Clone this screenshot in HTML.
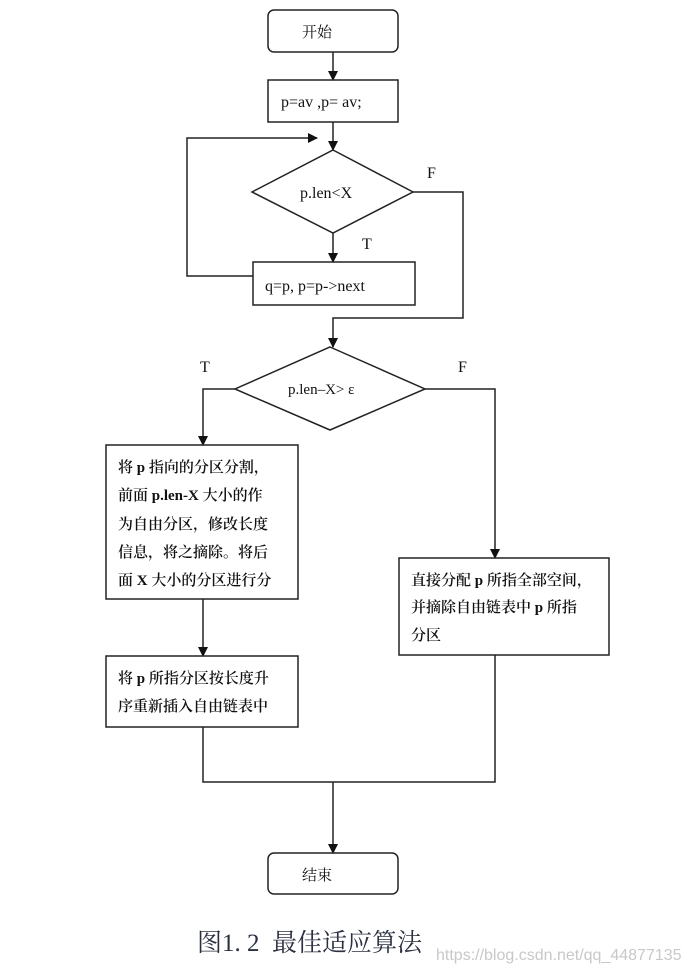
<!DOCTYPE html>
<html><head><meta charset="utf-8"><style>
body{margin:0;background:#fff;}
svg{display:block;}
text{font-family:"Liberation Serif","Noto Serif CJK SC",serif;fill:#111;}
.c{font-family:"Liberation Serif","Noto Serif CJK SC",serif;font-size:15px;font-weight:600;}
</style></head><body>
<svg width="689" height="972" viewBox="0 0 689 972" xmlns="http://www.w3.org/2000/svg">
<defs><marker id="a" markerWidth="10" markerHeight="10" refX="9" refY="5" orient="auto" markerUnits="userSpaceOnUse"><path d="M0,0 L10,5 L0,10 z" fill="#111"/></marker></defs>
<g stroke="#222" stroke-width="1.5" fill="none">
<rect x="268" y="10" width="130" height="42" rx="6"/>
<line x1="333" y1="52" x2="333" y2="80" marker-end="url(#a)"/>
<rect x="268" y="80" width="130" height="42"/>
<line x1="333" y1="122" x2="333" y2="150" marker-end="url(#a)"/>
<polygon points="333,150 413,192 333,233 252,192"/>
<line x1="333" y1="233" x2="333" y2="262" marker-end="url(#a)"/>
<rect x="253" y="262" width="162" height="43"/>
<polyline points="253,276 187,276 187,138 317,138" marker-end="url(#a)"/>
<polyline points="413,192 463,192 463,318 333,318 333,347" marker-end="url(#a)"/>
<polygon points="330,347 425,389 330,430 235,389"/>
<polyline points="235,389 203,389 203,445" marker-end="url(#a)"/>
<polyline points="425,389 495,389 495,558" marker-end="url(#a)"/>
<rect x="106" y="445" width="192" height="154"/>
<line x1="203" y1="599" x2="203" y2="656" marker-end="url(#a)"/>
<rect x="106" y="656" width="192" height="71"/>
<rect x="399" y="558" width="210" height="97"/>
<polyline points="203,727 203,782 495,782 495,655"/>
<line x1="333" y1="782" x2="333" y2="853" marker-end="url(#a)"/>
<rect x="268" y="853" width="130" height="41" rx="6"/>
</g>
<text class="c" x="302" y="37" style="font-weight:400">开始</text>
<text x="281" y="107" font-size="16">p=av ,p= av;</text>
<text x="300" y="198" font-size="16">p.len&lt;X</text>
<text x="427" y="178" font-size="16">F</text>
<text x="362" y="249" font-size="16">T</text>
<text x="265" y="291" font-size="16">q=p, p=p-&gt;next</text>
<text x="288" y="394" font-size="15">p.len–X&gt; ε</text>
<text x="200" y="372" font-size="16">T</text>
<text x="458" y="372" font-size="16">F</text>
<text class="c" x="118" y="472">将 p 指向的分区分割，</text>
<text class="c" x="118" y="500">前面 p.len-X 大小的作</text>
<text class="c" x="118" y="529">为自由分区，修改长度</text>
<text class="c" x="118" y="557">信息，将之摘除。将后</text>
<text class="c" x="118" y="585">面 X 大小的分区进行分</text>
<text class="c" x="118" y="683">将 p 所指分区按长度升</text>
<text class="c" x="118" y="711">序重新插入自由链表中</text>
<text class="c" x="411" y="585">直接分配 p 所指全部空间，</text>
<text class="c" x="411" y="612">并摘除自由链表中 p 所指</text>
<text class="c" x="411" y="640">分区</text>
<text class="c" x="302" y="880" style="font-weight:400">结束</text>
<text x="197" y="951" font-size="25" style="fill:#2a3040" xml:space="preserve">图1. 2  最佳适应算法</text>
<text x="436" y="960" font-size="16" style="fill:#c8c8c8;font-family:'Liberation Sans',sans-serif">https://blog.csdn.net/qq_44877135</text>
</svg>
</body></html>
